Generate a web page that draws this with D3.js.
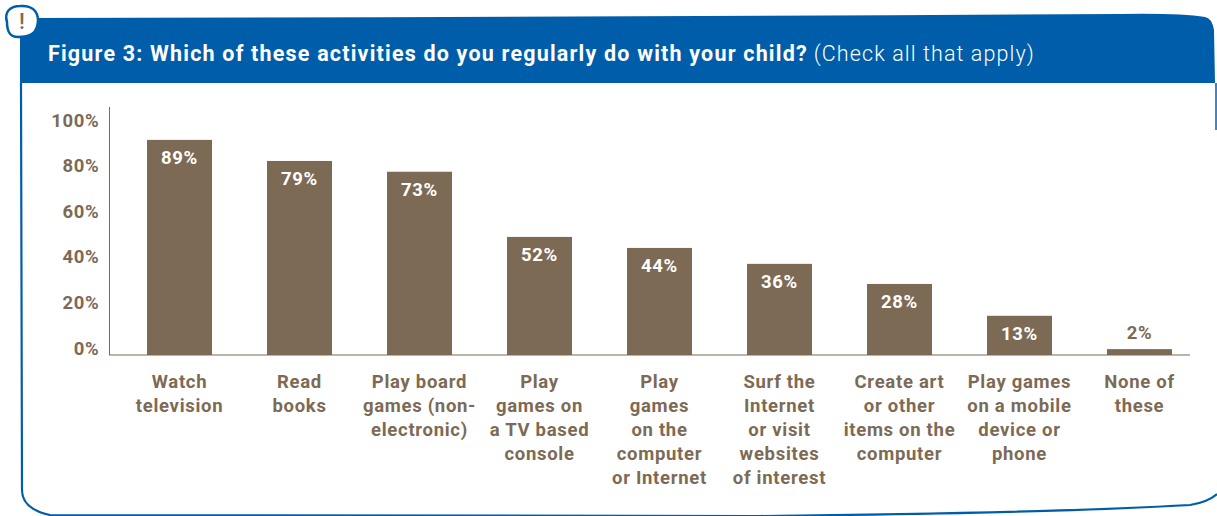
<!DOCTYPE html>
<html><head><meta charset="utf-8">
<script src="https://cdn.jsdelivr.net/npm/d3@7"></script>
<style>html,body{margin:0;padding:0;background:#fff;overflow:hidden}svg{display:block}text{font-family:Roboto,sans-serif}</style>
</head><body><svg id="c" width="1217" height="516"></svg>
<script>
const categories=["Watch television","Read books","Play board games (non-electronic)","Play games on a TV based console","Play games on the computer or Internet","Surf the Internet or visit websites of interest","Create art or other items on the computer","Play games on a mobile device or phone","None of these"];
const categoryLines=[["Watch","television"],["Read","books"],["Play board","games (non-","electronic)"],["Play","games on","a TV based","console"],["Play","games","on the","computer","or Internet"],["Surf the","Internet","or visit","websites","of interest"],["Create art","or other","items on the","computer"],["Play games","on a mobile","device or","phone"],["None of","these"]];
const printedLabels=[89,79,73,52,44,36,28,13,2];
const drawnHeights=[87.8,79.2,74.8,48.2,43.7,37.2,29,16,2.4];
const tickValues=[0,20,40,60,80,100];
const brown="#7d6a55",blue="#005daa";
const svg=d3.select("#c");
// frame
svg.append("path").attr("d","M21 83 L22 490 Q22 509 50 515 L760 516 Q1050 513 1190 505 Q1208 502 1217 494").attr("fill","none").attr("stroke",blue).attr("stroke-width",2.2);
svg.append("path").attr("d","M1216 83 L1216 130").attr("fill","none").attr("stroke",blue).attr("stroke-width",1.5);
svg.append("path").attr("d","M20 18 Q600 17 1120 14 Q1180 13 1205 17 Q1212 18 1214 30 L1215 83 L20 83 Z").attr("fill",blue);
svg.append("path").attr("d","M7 22 C4 12 10 6 20 6 C32 5 38 11 38 21 C37 34 30 37 18 37 C10 37 7 32 7 22 Z").attr("fill","#fff").attr("stroke",blue).attr("stroke-width",2.5);
svg.append("text").attr("x",22).attr("y",29).attr("text-anchor","middle").attr("font-size",22).attr("font-weight",500).attr("fill",brown).text("!");
// title
const t=svg.append("text").attr("x",48).attr("y",61).attr("font-size",21.5).attr("fill","#fff");
t.append("tspan").attr("font-weight",700).attr("letter-spacing",1.19).text("Figure 3: Which of these activities do you regularly do with your child?");
t.append("tspan").attr("dx",6).attr("font-weight",300).attr("letter-spacing",1.1).text("(Check all that apply)");
// scales
const x=d3.scaleBand().domain(categories).range([119.5,1199.5]).paddingInner(.4583).paddingOuter(.2292);
const y=d3.scaleLinear().domain([0,100]).range([355,110]);
const yTicks=d3.scaleLinear().domain([0,100]).range([347.4,119.6]);
// axes
const ax=d3.axisLeft(yTicks).tickValues(tickValues).tickSize(0).tickPadding(0).tickFormat(d=>d+"%");
const gy=svg.append("g").attr("transform","translate(99.5,0)").call(ax);
gy.select(".domain").remove();
gy.selectAll("text").attr("font-size",18.5).attr("font-weight",700).attr("letter-spacing",.7).attr("fill",brown).attr("dy","0.36em").style("font-family","Roboto,sans-serif");
svg.append("line").attr("x1",109.5).attr("x2",109.5).attr("y1",107).attr("y2",355).attr("stroke",brown).attr("stroke-width",1);
svg.append("line").attr("x1",109).attr("x2",1190).attr("y1",355).attr("y2",355).attr("stroke",brown).attr("stroke-width",1.2);
// bars
const g=svg.append("g").selectAll("g").data(categories).join("g");
g.append("rect").attr("x",d=>x(d)).attr("width",x.bandwidth()).attr("y",(d,i)=>y(drawnHeights[i])).attr("height",(d,i)=>y(0)-y(drawnHeights[i])).attr("fill",brown);
g.append("text").attr("x",d=>x(d)+x.bandwidth()/2).attr("y",(d,i)=>i==8?y(drawnHeights[i])-10:y(drawnHeights[i])+24).attr("text-anchor","middle").attr("font-size",18.5).attr("font-weight",700).attr("letter-spacing",.7).attr("fill",(d,i)=>i==8?brown:"#fff").text((d,i)=>printedLabels[i]+"%");
g.each(function(d,i){
  const s=d3.select(this).append("text").attr("text-anchor","middle").attr("font-size",18.5).attr("font-weight",700).attr("letter-spacing",.7).attr("fill",brown);
  categoryLines[i].forEach((l,k)=>s.append("tspan").attr("x",x(d)+x.bandwidth()/2).attr("y",388+k*24).text(l));
});
</script></body></html>
